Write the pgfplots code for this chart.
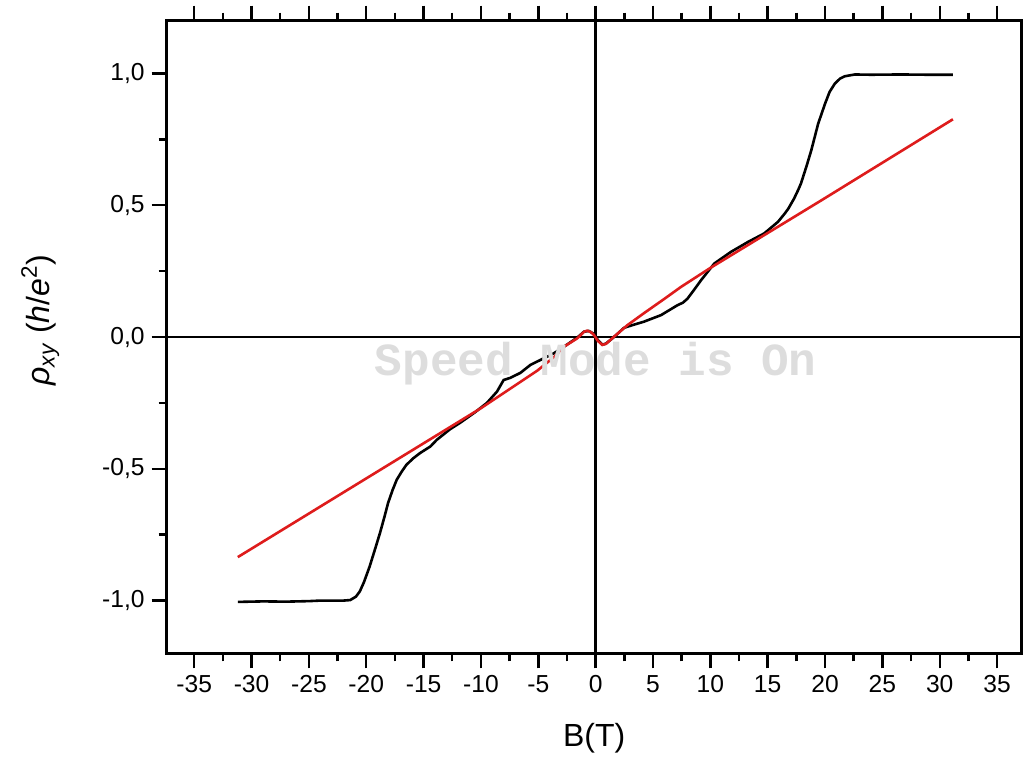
\documentclass[border=0pt]{standalone}
\usepackage{fontspec}
\setmainfont{Liberation Sans}
\newfontfamily\wmfont{Liberation Mono}
\usepackage{pgfplots}
\pgfplotsset{compat=1.18}
\definecolor{fitred}{RGB}{222,28,28}
\begin{document}
\begin{tikzpicture}
\useasboundingbox (0,0) rectangle (518pt,378.5pt);
\begin{axis}[
  at={(83.35pt,51.85pt)}, anchor=south west,
  scale only axis, width=427.5pt, height=316.3pt,
  xmin=-37.4, xmax=37.15, ymin=-1.2, ymax=1.2,
  xtick={-35,-30,-25,-20,-15,-10,-5,0,5,10,15,20,25,30,35},
  xticklabels={-35,-30,-25,-20,-15,-10,-5,0,5,10,15,20,25,30,35},
  ytick={-1,-0.5,0,0.5,1},
  yticklabels={{-1,0},{-0,5},{0,0},{0,5},{1,0}},
  minor x tick num=1, minor y tick num=1,
  tick align=outside,
  xtick pos=both, xticklabel pos=lower, ytick pos=left,
  major tick length=7.5pt, minor tick length=4pt,
  tick style={line width=1.2pt, black},
  axis line style={line width=1.3pt},
  ticklabel style={font=\fontsize{12.3}{14}\selectfont},
  xlabel={B(T)},
  ylabel={\textit{ρ}\textsubscript{\textit{xy}} (\textit{h}/\textit{e}\textsuperscript{2})},
  label style={font=\fontsize{16}{19}\selectfont},
  xlabel style={at={(axis description cs:0.5,-0.135)}, anchor=center},
  ylabel style={at={(axis description cs:-0.148,0.527)}, anchor=center},
]
\draw[black, line width=1.15pt] (axis cs:-37.4,0) -- (axis cs:37.15,0);
\draw[black, line width=1.15pt] (axis cs:0,-1.2) -- (axis cs:0,1.2);
\addplot[black, line width=1.3pt] coordinates {
(-31.2,-1.005) (-29,-1.003) (-27,-1.004) (-25,-1.002) (-24,-1.0) (-23,-1.0) (-22,-1.0) (-21.4,-0.998)
(-20.9,-0.985) (-20.56,-0.965) (-20.2,-0.93) (-19.7,-0.87) (-19.2,-0.80) (-18.8,-0.743) (-18.4,-0.68)
(-18.1,-0.63) (-17.7,-0.58) (-17.35,-0.542) (-16.9,-0.51) (-16.5,-0.485) (-15.9,-0.46) (-15.3,-0.44)
(-14.4,-0.415) (-13.85,-0.39) (-12.7,-0.35) (-11.8,-0.325) (-10.5,-0.285) (-9.48,-0.25) (-8.6,-0.207)
(-8.02,-0.163) (-7.44,-0.155) (-6.56,-0.136) (-5.69,-0.106) (-4.81,-0.087) (-3.65,-0.062) (-2.77,-0.037)
(-1.6,-0.002) (-1.02,0.02) (-0.6,0.023) (-0.15,0.012) (0.2,-0.012) (0.58,-0.029) (0.9,-0.025)
(1.6,0.0) (2.48,0.035) (3.2,0.045) (4.2,0.058) (5.7,0.083) (7.15,0.121) (7.6,0.13) (8.0,0.145)
(8.6,0.18) (9.2,0.216) (10.35,0.279) (11.8,0.323) (13.3,0.361) (14.7,0.393) (15.9,0.437) (16.5,0.469)
(16.8,0.487) (17.3,0.525) (17.65,0.557) (17.9,0.582) (18.4,0.65) (18.8,0.708) (19.4,0.809) (20.0,0.885)
(20.4,0.93) (20.85,0.961) (21.3,0.98) (21.7,0.989) (22.6,0.996) (24,0.995) (26.6,0.996) (29,0.995) (31.15,0.995)
};
\addplot[fitred, line width=1.3pt] coordinates {
(-31.2,-0.835) (-10,-0.27) (-5.1,-0.128) (-3.6,-0.075) (-2.77,-0.037) (-1.6,-0.005) (-1.0,0.02)
(-0.73,0.024) (-0.4,0.018) (-0.15,0.008) (0.2,-0.015) (0.58,-0.030) (0.9,-0.026) (1.6,0.001)
(2.77,0.045) (4.2,0.09) (6.0,0.145) (7.44,0.19) (10,0.262) (19.7,0.519) (31.15,0.826)
};
\node[text=gray!27, font=\wmfont\bfseries\fontsize{23}{23}\selectfont] at (axis cs:0,-0.1) {Speed Mode is On};
\end{axis}
\end{tikzpicture}
\end{document}
